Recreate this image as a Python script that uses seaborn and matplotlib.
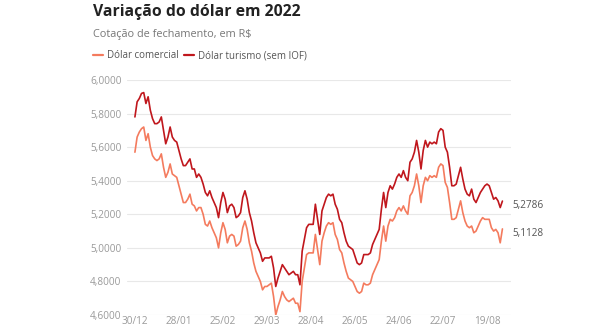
import numpy as np
import pandas as pd
import matplotlib
matplotlib.use("Agg")
import matplotlib.pyplot as plt
import seaborn as sns

tick_labels = ["30/12", "28/01", "25/02", "29/03", "28/04", "26/05", "24/06", "22/07", "19/08"]

turismo = [
    5.78, 5.87, 5.89, 5.92, 5.925, 5.86, 5.90, 5.82, 5.77, 5.74,
    5.74, 5.75, 5.78, 5.70, 5.62, 5.66, 5.72, 5.66, 5.64, 5.63,
    5.58, 5.53, 5.49, 5.49, 5.51, 5.53, 5.47, 5.47, 5.42, 5.44,
    5.42, 5.38, 5.33, 5.31, 5.34, 5.30, 5.27, 5.24, 5.18, 5.27,
    5.33, 5.29, 5.21, 5.25, 5.26, 5.24, 5.18, 5.19, 5.21, 5.30,
    5.34, 5.29, 5.21, 5.16, 5.09, 5.03, 5.00, 4.97, 4.92, 4.94,
    4.94, 4.94, 4.95, 4.88, 4.77, 4.82, 4.86, 4.90, 4.88, 4.86,
    4.84, 4.85, 4.86, 4.84, 4.84, 4.78, 4.98, 5.05, 5.12, 5.14,
    5.14, 5.14, 5.26, 5.17, 5.08, 5.22, 5.26, 5.30, 5.32, 5.31,
    5.32, 5.26, 5.23, 5.17, 5.15, 5.09, 5.04, 5.01, 5.00, 4.99,
    4.95, 4.91, 4.90, 4.91, 4.96, 4.96, 4.96, 4.97, 5.02, 5.05,
    5.08, 5.11, 5.23, 5.33, 5.24, 5.33, 5.37, 5.35, 5.38, 5.42,
    5.44, 5.42, 5.46, 5.42, 5.40, 5.51, 5.53, 5.57, 5.64, 5.57,
    5.47, 5.58, 5.64, 5.60, 5.63, 5.62, 5.63, 5.62, 5.69, 5.71,
    5.70, 5.60, 5.57, 5.48, 5.37, 5.37, 5.38, 5.43, 5.48, 5.41,
    5.35, 5.32, 5.31, 5.35, 5.29, 5.27, 5.30, 5.33, 5.35, 5.37,
    5.38, 5.37, 5.33, 5.29, 5.30, 5.28, 5.24, 5.2786,
]

comercial = [
    5.57, 5.66, 5.69, 5.71, 5.72, 5.64, 5.68, 5.60, 5.55, 5.53,
    5.52, 5.53, 5.56, 5.48, 5.42, 5.45, 5.50, 5.44, 5.43, 5.42,
    5.37, 5.32, 5.27, 5.27, 5.29, 5.32, 5.26, 5.25, 5.22, 5.24,
    5.24, 5.20, 5.14, 5.13, 5.16, 5.12, 5.09, 5.06, 5.00, 5.09,
    5.15, 5.11, 5.03, 5.07, 5.08, 5.07, 5.01, 5.02, 5.04, 5.12,
    5.16, 5.11, 5.03, 4.98, 4.91, 4.86, 4.83, 4.80, 4.75, 4.77,
    4.77, 4.78, 4.79, 4.71, 4.60, 4.65, 4.69, 4.74, 4.71, 4.69,
    4.68, 4.69, 4.70, 4.67, 4.67, 4.62, 4.80, 4.88, 4.96, 4.97,
    4.97, 4.97, 5.08, 4.99, 4.90, 5.04, 5.09, 5.13, 5.15, 5.14,
    5.15, 5.08, 5.05, 4.99, 4.97, 4.91, 4.86, 4.82, 4.81, 4.80,
    4.77, 4.74, 4.73, 4.74, 4.79, 4.78, 4.78, 4.79, 4.84, 4.87,
    4.90, 4.93, 5.04, 5.13, 5.04, 5.13, 5.17, 5.16, 5.18, 5.22,
    5.24, 5.22, 5.25, 5.22, 5.20, 5.31, 5.33, 5.37, 5.44, 5.37,
    5.27, 5.37, 5.42, 5.40, 5.43, 5.42, 5.43, 5.42, 5.48, 5.50,
    5.49, 5.39, 5.36, 5.27, 5.17, 5.17, 5.18, 5.23, 5.28, 5.21,
    5.16, 5.13, 5.12, 5.13, 5.09, 5.10, 5.13, 5.16, 5.18, 5.17,
    5.17, 5.17, 5.12, 5.10, 5.11, 5.09, 5.03, 5.1128,
]

series_names = ["Dólar comercial", "Dólar turismo (sem IOF)"]
y_ticks = [4.6, 4.8, 5.0, 5.2, 5.4, 5.6, 5.8, 6.0]

n = len(turismo)
df = pd.DataFrame({
    "idx": list(range(n)) * 2,
    "valor": comercial + turismo,
    "serie": [series_names[0]] * n + [series_names[1]] * n,
})

sns.set_theme(style="white")
plt.rcParams["font.family"] = ["Open Sans", "DejaVu Sans"]

c_com = "#f47b5e"
c_tur = "#c0171d"

fig = plt.figure(figsize=(5.9, 3.3), dpi=100)
ax = fig.add_axes([127 / 590, 15 / 330, (511 - 127) / 590, 235 / 330])

sns.lineplot(data=df, x="idx", y="valor", hue="serie",
             palette={series_names[0]: c_com, series_names[1]: c_tur},
             linewidth=1.2, ax=ax, legend=False)

ax.set_xlim(-3.6, 170.9)
ax.set_ylim(4.6, 6.0)
ax.set_yticks(y_ticks)
ax.set_yticklabels([f"{v:.4f}".replace(".", ",") for v in y_ticks])
ax.set_xticks(list(range(0, 20 * len(tick_labels), 20)))
ax.set_xticklabels(tick_labels)
ax.set_xlabel("")
ax.set_ylabel("")
ax.grid(axis="y", color="#e8e8e8", linewidth=0.8)
ax.set_axisbelow(True)
for s in ax.spines.values():
    s.set_visible(False)
ax.tick_params(axis="both", length=0, labelsize=7.2, colors="#9a9a9a")
ax.tick_params(axis="y", pad=4)
ax.tick_params(axis="x", pad=1)

# end labels
for vals, dy in ((turismo, -3), (comercial, -3)):
    ax.annotate(f"{vals[-1]:.4f}".replace(".", ","), xy=(170.9, vals[-1]),
                xytext=(1, dy), textcoords="offset points",
                ha="left", va="center", fontsize=7.2, color="#555555",
                annotation_clip=False)

fig.text(93 / 590, 1 - 12 / 330, "Variação do dólar em 2022", fontsize=11.3,
         fontweight="bold", color="#222222", ha="left", va="center")
fig.text(93 / 590, 1 - 34 / 330, "Cotação de fechamento, em R$", fontsize=7.8,
         color="#777777", ha="left", va="center")

from matplotlib.lines import Line2D
handles = [Line2D([0], [0], color=c_com, lw=1.6), Line2D([0], [0], color=c_tur, lw=1.6)]
fig.legend(handles, series_names, loc="center left",
           bbox_to_anchor=(93 / 590, 1 - 56 / 330), ncol=2, frameon=False,
           fontsize=7.0, handlelength=1.0, handletextpad=0.4, columnspacing=0.6,
           labelcolor="#555555", borderaxespad=0, borderpad=0)

fig.savefig("out.png", dpi=100, facecolor="white")
